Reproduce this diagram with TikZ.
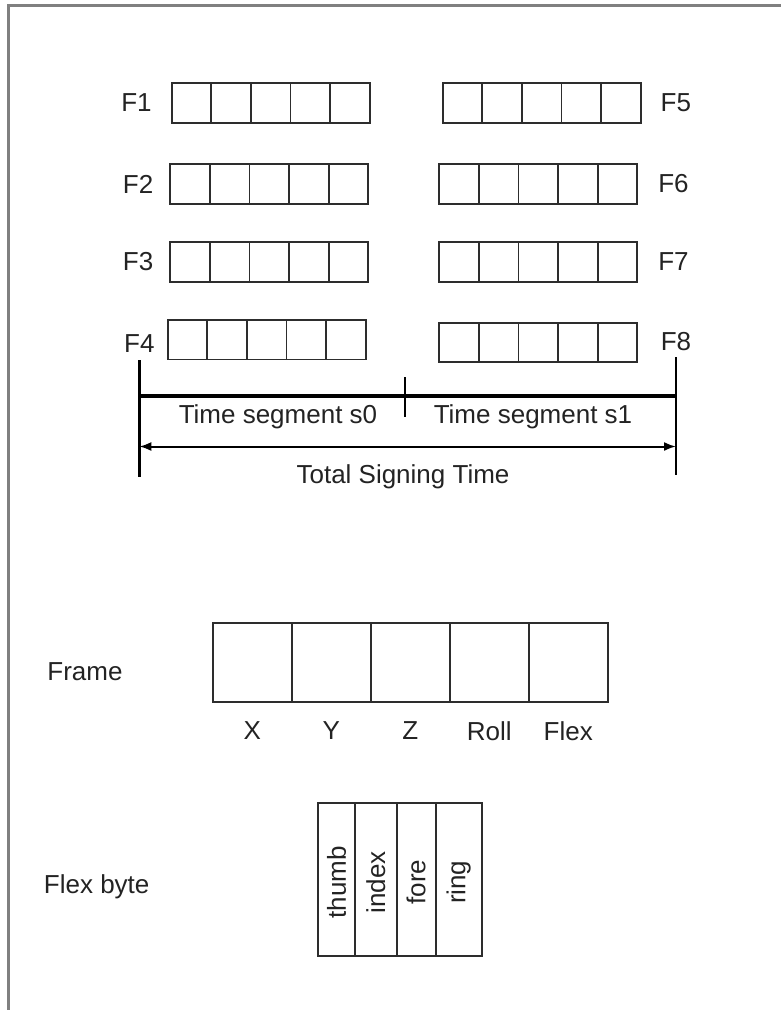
\documentclass[tikz,border=0pt]{standalone}
\usepackage{fontspec}
\setmainfont{Liberation Sans}
\usetikzlibrary{positioning,arrows.meta}

\definecolor{boxgray}{RGB}{45,45,45}
\definecolor{bordergray}{RGB}{128,128,128}
\definecolor{inkgray}{RGB}{35,35,35}

\begin{document}
\begin{tikzpicture}[
x=1pt, y=-1pt,
every node/.style={
inner sep=0pt,
outer sep=0pt,
text=inkgray,
font=\fontsize{26}{31}\selectfont
},
arrow/.style={{Latex[length=12pt,width=9pt]}-{Latex[length=12pt,width=9pt]}, line width=2pt}
]

% =====================================================
% Styles
% =====================================================

\tikzstyle{cell} =
[rectangle, anchor=north west,
draw=boxgray, line width=1.8pt,
minimum width=39.6pt, minimum height=39.4pt]

\tikzstyle{framecell} =
[rectangle, anchor=north west,
draw=boxgray, line width=1.8pt,
minimum width=79pt, minimum height=78.4pt]

\tikzstyle{flexcell} =
[rectangle, anchor=north west,
draw=boxgray, line width=1.8pt,
minimum height=153pt]

\tikzstyle{marker} =
[black, line width=2.6pt]

\useasboundingbox (0,0) rectangle (781,1010);

% page edge
\draw [bordergray, line width=2.5pt] (8.3,1015) -- (8.3,5.3) -- (786,5.3);

% =====================================================
% Frame rows F1 ... F8
% =====================================================

\foreach \row/\x/\y in {f1/171.7/83.3, f2/170.3/164.3, f3/170.3/242.3, f4/167.7/320,
                        f5/442.7/83.3, f6/439.3/164.3, f7/439.3/242.3, f8/439.3/322.7}
  \foreach \k in {1,...,5}
    \node (\row c\k) [cell] at ({\x+(\k-1)*39.6},\y) {};

\node (lf1) [left=20pt of f1c1] {F1};
\node (lf2) [left=17pt of f2c1] {F2};
\node (lf3) [left=17pt of f3c1] {F3};

\node (lf5) [right=20pt of f5c5] {F5};
\node (lf6) [right=21pt of f6c5] {F6};
\node (lf7) [right=21pt of f7c5] {F7};

% =====================================================
% Time line
% =====================================================

\coordinate (top4) at (139.3,360);
\coordinate (bot4) at (139.3,477);
\coordinate (top8) at (676,357);
\coordinate (bot8) at (676,475);

\node (lf4) [above=8pt of top4] {F4};
\node (lf8) [above=6pt of top8] {F8};

\coordinate (seg4) at (139.3,396);
\coordinate (seg8) at (676,396);
\coordinate (midtop) at (405,377);
\coordinate (midbot) at (405,417);

\coordinate (tot4) at (139.3,446.5);
\coordinate (tot8) at (676,446.5);

\node (segzero) at (278,417) {Time segment s0};
\node (segone) at (533,417) {Time segment s1};
\node (total) at (403,477) {Total Signing Time};

% =====================================================
% Frame layout
% =====================================================

\node (framelbl) at (85,671.7) {Frame};

\foreach \k/\lbl in {1/X, 2/Y, 3/Z, 4/Roll, 5/Flex} {
  \node (fr\k) [framecell] at ({212.7+(\k-1)*79},623.3) {};
  \node (frl\k) [below=19.5pt of fr\k] {\lbl};
}

% =====================================================
% Flex byte layout
% =====================================================

\node (flexlbl) at (96.7,886.7) {Flex byte};

\foreach \finger/\x/\w in {thumb/318.3/36.7pt, index/355/41.7pt, fore/396.7/39pt, ring/435.7/46pt} {
  \node (\finger) [flexcell, minimum width=\w] at (\x,802.7) {};
  \node (\finger txt) [rotate=90] at ([yshift=-3pt]\finger.center) {\finger};
}

% =====================================================
% Arrows
% =====================================================

\draw [marker] (top4) -- (bot4);

\draw [marker] (top8) -- (bot8);

\draw [black, line width=3.4pt] (seg4) -- (seg8);

\draw [marker, line width=2pt] (midtop) -- (midbot);

\draw [arrow] (tot4) -- (tot8);

\end{tikzpicture}
\end{document}
